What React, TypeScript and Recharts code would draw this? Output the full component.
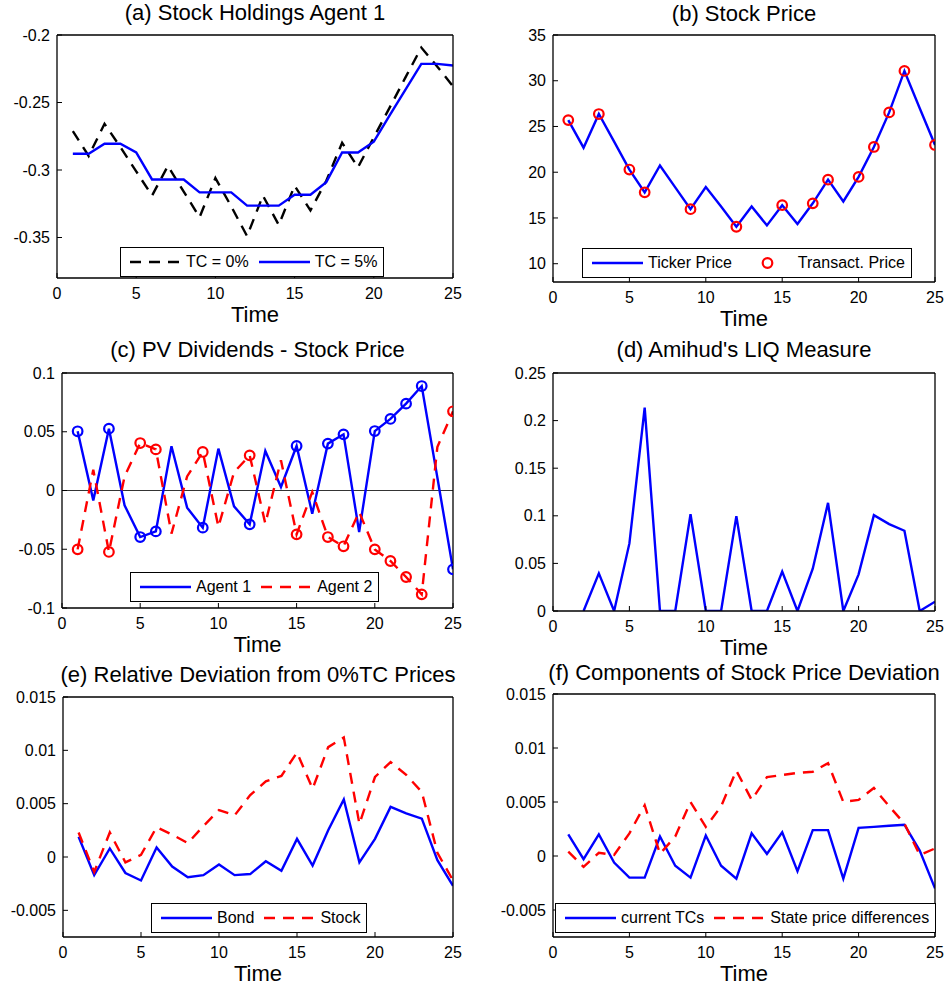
import React from 'react';
import { LineChart, Line, XAxis, YAxis, ReferenceLine } from 'recharts';

const FONT = '"Liberation Sans", Arial, Helvetica, sans-serif';
const BLUE = '#0000ff';
const RED = '#ff0000';
const BLACK = '#000000';
const DASH = '11 8';
const LW = 2.4;

// time grid and tick labels
const times = [1, 2, 3, 4, 5, 6, 7, 8, 9, 10, 11, 12, 13, 14, 15, 16, 17, 18, 19, 20, 21, 22, 23, 24, 25];
const xTicks = [0, 5, 10, 15, 20, 25];
const tradeTimes = [1, 3, 5, 6, 9, 12, 15, 17, 18, 20, 21, 22, 23, 25];

// (a) stock holdings of agent 1
const holdingsTc0 = [-0.2712, -0.2896, -0.2658, -0.283, -0.301, -0.319, -0.297, -0.316, -0.335, -0.306, -0.327, -0.349, -0.319, -0.3407, -0.3117, -0.33, -0.308, -0.2798, -0.298, -0.2758, -0.2538, -0.2314, -0.2093, -0.2233, -0.238];
const holdingsTc5 = [-0.288, -0.288, -0.2805, -0.2805, -0.287, -0.307, -0.307, -0.307, -0.3166, -0.3166, -0.3166, -0.3264, -0.3264, -0.3264, -0.3183, -0.3183, -0.309, -0.287, -0.287, -0.279, -0.2595, -0.2405, -0.2214, -0.2214, -0.2226];

// (b) stock price
const tickerPrice = [25.7, 22.68, 26.36, 23.35, 20.29, 17.8, 20.74, 18.35, 15.96, 18.38, 16.25, 14.04, 16.25, 14.19, 16.4, 14.34, 16.6, 19.19, 16.8, 19.49, 22.76, 26.54, 31.07, 27.0, 22.98];

// (c) PV dividends - stock price
const pvAgent1 = [0.0504, -0.0084, 0.0526, -0.0126, -0.0396, -0.0348, 0.0376, -0.0146, -0.0316, 0.0356, -0.0135, -0.0288, 0.0336, 0.003, 0.0379, -0.0197, 0.0399, 0.0478, -0.0353, 0.0506, 0.0609, 0.0739, 0.0889, 0.011, -0.0671];
const pvAgent2 = [-0.0501, 0.0177, -0.0523, 0.012, 0.0404, 0.035, -0.0367, 0.012, 0.0328, -0.031, 0.0155, 0.0299, -0.0282, 0.0257, -0.0373, -0.0013, -0.0396, -0.0475, -0.0183, -0.0501, -0.06, -0.0736, -0.0884, 0.037, 0.0674];

// (d) Amihud's LIQ
const amihudLiq = [null, 0, 0.0395, 0, 0.071, 0.2136, 0, 0, 0.1017, 0, 0, 0.0997, 0, 0, 0.0413, 0, 0.0444, 0.1136, 0, 0.0385, 0.1007, 0.0913, 0.0843, 0, 0.0098];

// (e) relative deviation from 0%TC prices
const devBond = [0.0019, -0.0017, 0.0008, -0.0015, -0.0022, 0.0009, -0.0009, -0.0019, -0.0017, -0.0007, -0.0017, -0.0016, -0.0004, -0.0013, 0.0017, -0.0008, 0.0025, 0.0054, -0.0005, 0.0017, 0.0047, 0.0041, 0.0036, -0.0003, -0.0027];
const devStock = [0.0023, -0.0014, 0.0023, -0.0005, 0.0002, 0.0028, 0.0021, 0.0013, 0.0029, 0.0044, 0.0039, 0.0058, 0.0071, 0.0076, 0.0098, 0.0064, 0.0103, 0.0112, 0.0031, 0.0075, 0.0089, 0.0077, 0.0061, 0.0004, -0.0022];

// (f) components of stock price deviation
const currentTcs = [0.002, -0.0003, 0.002, -0.0006, -0.002, -0.002, 0.0018, -0.0009, -0.002, 0.0019, -0.0009, -0.0021, 0.0021, 0.0002, 0.0022, -0.0014, 0.0024, 0.0024, -0.0021, 0.0026, 0.0027, 0.0028, 0.0029, 0.0005, -0.003];
const statePriceDiff = [0.0004, -0.001, 0.0003, 0.0001, 0.0021, 0.0047, 0.0002, 0.0018, 0.005, 0.0027, 0.0046, 0.0079, 0.0052, 0.0073, 0.0075, 0.0077, 0.0078, 0.0086, 0.005, 0.0052, 0.0063, 0.0046, 0.003, 0.0001, 0.0007];

const rows = times.map((t, i) => ({
  t,
  tc0: holdingsTc0[i],
  tc5: holdingsTc5[i],
  price: tickerPrice[i],
  ag1: pvAgent1[i],
  ag2: pvAgent2[i],
  liq: amihudLiq[i],
  bond: devBond[i],
  stock: devStock[i],
  ctc: currentTcs[i],
  spd: statePriceDiff[i],
}));

const fmt = (v: number) => String(+v.toFixed(4));

const markerDot = (color: string) => (props: any) => {
  const { cx, cy, payload, index } = props;
  if (cy == null || !payload || !tradeTimes.includes(payload.t)) return <g key={`m-${index}`} />;
  return <circle key={`m-${index}`} cx={cx} cy={cy} r={4.8} fill="none" stroke={color} strokeWidth={2.2} />;
};

type Rect = { x: number; y: number; w: number; h: number };
type Series = { key: string; color: string; dash?: string; markers?: boolean; noLine?: boolean };
type LegendItem = { kind: 'line' | 'dash' | 'circle'; color: string; label: string };

function LegendBox({ left, top, items }: { left: number; top: number; items: LegendItem[] }) {
  return (
    <div
      style={{
        position: 'absolute',
        left,
        top,
        height: 30,
        boxSizing: 'border-box',
        border: '1.3px solid #000',
        background: '#fff',
        display: 'flex',
        alignItems: 'center',
        padding: '0 6px 0 9px',
        fontSize: 16,
        whiteSpace: 'nowrap',
        color: '#000',
      }}
    >
      {items.map((it, i) => (
        <React.Fragment key={it.label}>
          <svg width={51} height={12} style={{ marginLeft: i ? 10 : 0, marginRight: 5 }}>
            {it.kind === 'circle' ? (
              <circle cx={25.5} cy={6} r={4.8} fill="none" stroke={it.color} strokeWidth={2.2} />
            ) : (
              <line x1={0} x2={51} y1={6} y2={6} stroke={it.color} strokeWidth={LW} strokeDasharray={it.kind === 'dash' ? DASH : undefined} />
            )}
          </svg>
          <span>{it.label}</span>
        </React.Fragment>
      ))}
    </div>
  );
}

function Panel(props: {
  rect: Rect;
  title: string;
  titleBase: number;
  series: Series[];
  yDomain: [number, number];
  yTicks: number[];
  zeroLine?: boolean;
  legend?: { left: number; top: number; items: LegendItem[] };
}) {
  const { rect, title, titleBase, series, yDomain, yTicks, zeroLine, legend } = props;
  const axisStyle = { stroke: BLACK, strokeWidth: 1.3 };
  const tickStyle = { stroke: BLACK, strokeWidth: 1 };
  return (
    <>
      <div
        style={{
          position: 'absolute',
          left: rect.x - 40,
          width: rect.w + 80,
          top: titleBase - 18.6,
          fontSize: 22,
          lineHeight: '22px',
          textAlign: 'center',
          whiteSpace: 'nowrap',
          color: '#000',
        }}
      >
        {title}
      </div>
      <div style={{ position: 'absolute', left: rect.x - 70, top: rect.y - 10 }}>
        <LineChart width={rect.w + 80} height={rect.h + 60} data={rows} margin={{ top: 9, right: 9, bottom: 6, left: 0 }}>
          <XAxis
            xAxisId="b"
            dataKey="t"
            type="number"
            domain={[0, 25]}
            ticks={xTicks}
            interval={0}
            height={44}
            tickSize={-5}
            tickMargin={15}
            axisLine={axisStyle}
            tickLine={tickStyle}
            tick={{ fill: BLACK, fontSize: 16 }}
            allowDataOverflow
            label={{ value: 'Time', position: 'insideBottom', offset: 0, fontSize: 22, fill: BLACK }}
          />
          <XAxis
            xAxisId="t"
            orientation="top"
            dataKey="t"
            type="number"
            domain={[0, 25]}
            ticks={xTicks}
            interval={0}
            height={1}
            tickSize={-5}
            axisLine={axisStyle}
            tickLine={tickStyle}
            tick={false}
            allowDataOverflow
          />
          <YAxis
            yAxisId="l"
            type="number"
            domain={yDomain}
            ticks={yTicks}
            interval={0}
            width={70}
            tickSize={-5}
            tickMargin={12}
            axisLine={axisStyle}
            tickLine={tickStyle}
            tick={{ fill: BLACK, fontSize: 16 }}
            tickFormatter={fmt}
            allowDataOverflow
          />
          <YAxis
            yAxisId="r"
            orientation="right"
            type="number"
            domain={yDomain}
            ticks={yTicks}
            interval={0}
            width={1}
            tickSize={-5}
            axisLine={axisStyle}
            tickLine={tickStyle}
            tick={false}
            allowDataOverflow
          />
          {zeroLine && <ReferenceLine xAxisId="b" yAxisId="l" y={0} stroke={BLACK} strokeWidth={0.8} />}
          <Line
            xAxisId="t"
            yAxisId="r"
            dataKey={series[0].key}
            stroke="none"
            dot={false}
            activeDot={false}
            legendType="none"
            isAnimationActive={false}
          />
          {series.map((s) => (
            <Line
              key={s.key + (s.noLine ? '-m' : '')}
              xAxisId="b"
              yAxisId="l"
              type="linear"
              dataKey={s.key}
              stroke={s.noLine ? 'none' : s.color}
              strokeWidth={LW}
              strokeDasharray={s.dash}
              dot={s.markers ? markerDot(s.color) : false}
              activeDot={false}
              isAnimationActive={false}
            />
          ))}
        </LineChart>
      </div>
      {legend && <LegendBox left={legend.left} top={legend.top} items={legend.items} />}
    </>
  );
}

export default function App() {
  return (
    <div
      style={{
        position: 'absolute',
        left: 0,
        top: 0,
        width: 945,
        height: 988,
        background: '#fff',
        fontFamily: FONT,
        overflow: 'hidden',
      }}
    >
      <Panel
        rect={{ x: 57, y: 35, w: 396, h: 243 }}
        title="(a) Stock Holdings Agent 1"
        titleBase={21}
        yDomain={[-0.38, -0.2]}
        yTicks={[-0.35, -0.3, -0.25, -0.2]}
        series={[
          { key: 'tc0', color: BLACK, dash: DASH },
          { key: 'tc5', color: BLUE },
        ]}
        legend={{
          left: 120,
          top: 247,
          items: [
            { kind: 'dash', color: BLACK, label: 'TC = 0%' },
            { kind: 'line', color: BLUE, label: 'TC = 5%' },
          ],
        }}
      />
      <Panel
        rect={{ x: 553, y: 35, w: 382, h: 247 }}
        title="(b) Stock Price"
        titleBase={21.5}
        yDomain={[8, 35]}
        yTicks={[10, 15, 20, 25, 30, 35]}
        series={[
          { key: 'price', color: BLUE },
          { key: 'price', color: RED, markers: true, noLine: true },
        ]}
        legend={{
          left: 582,
          top: 248,
          items: [
            { kind: 'line', color: BLUE, label: 'Ticker Price' },
            { kind: 'circle', color: RED, label: 'Transact. Price' },
          ],
        }}
      />
      <Panel
        rect={{ x: 62, y: 373, w: 391, h: 235 }}
        title="(c) PV Dividends - Stock Price"
        titleBase={357.3}
        yDomain={[-0.1, 0.1]}
        yTicks={[-0.1, -0.05, 0, 0.05, 0.1]}
        zeroLine
        series={[
          { key: 'ag1', color: BLUE, markers: true },
          { key: 'ag2', color: RED, dash: DASH, markers: true },
        ]}
        legend={{
          left: 130,
          top: 572,
          items: [
            { kind: 'line', color: BLUE, label: 'Agent 1' },
            { kind: 'dash', color: RED, label: 'Agent 2' },
          ],
        }}
      />
      <Panel
        rect={{ x: 553, y: 373, w: 382, h: 238 }}
        title="(d) Amihud's LIQ Measure"
        titleBase={357.3}
        yDomain={[0, 0.25]}
        yTicks={[0, 0.05, 0.1, 0.15, 0.2, 0.25]}
        series={[{ key: 'liq', color: BLUE }]}
      />
      <Panel
        rect={{ x: 63, y: 697, w: 390, h: 240 }}
        title="(e) Relative Deviation from 0%TC Prices"
        titleBase={682.7}
        yDomain={[-0.0075, 0.015]}
        yTicks={[-0.005, 0, 0.005, 0.01, 0.015]}
        series={[
          { key: 'bond', color: BLUE },
          { key: 'stock', color: RED, dash: DASH },
        ]}
        legend={{
          left: 151,
          top: 903,
          items: [
            { kind: 'line', color: BLUE, label: 'Bond' },
            { kind: 'dash', color: RED, label: 'Stock' },
          ],
        }}
      />
      <Panel
        rect={{ x: 553, y: 694, w: 382, h: 243 }}
        title="(f) Components of Stock Price Deviation"
        titleBase={680.7}
        yDomain={[-0.0075, 0.015]}
        yTicks={[-0.005, 0, 0.005, 0.01, 0.015]}
        series={[
          { key: 'ctc', color: BLUE },
          { key: 'spd', color: RED, dash: DASH },
        ]}
        legend={{
          left: 555,
          top: 903,
          items: [
            { kind: 'line', color: BLUE, label: 'current TCs' },
            { kind: 'dash', color: RED, label: 'State price differences' },
          ],
        }}
      />
    </div>
  );
}
